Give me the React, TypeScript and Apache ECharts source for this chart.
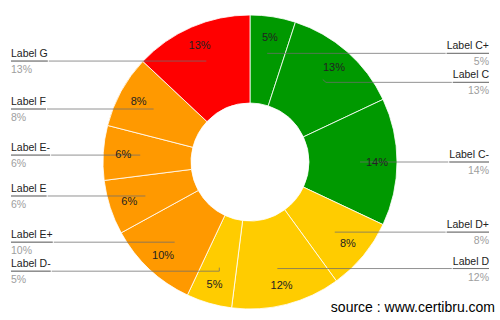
import { useEffect, useRef } from 'react';
import * as echarts from 'echarts';

// Share of each category, clockwise from 12 o'clock
const categories = [
  'Label C+', 'Label C', 'Label C-',
  'Label D+', 'Label D', 'Label D-',
  'Label E+', 'Label E', 'Label E-',
  'Label F', 'Label G',
];
const shares = [5, 13, 14, 8, 12, 5, 10, 6, 6, 8, 13];
const sliceColors = [
  '#009900', '#009900', '#009900',
  '#ffcc00', '#ffcc00', '#ffcc00',
  '#ff9900', '#ff9900', '#ff9900',
  '#ff9900', '#ff0000',
];
const sourceNote = 'source : www.certibru.com';

const FONT = "'Liberation Sans', Arial, sans-serif";
const CENTER = [250, 162];
const LEADER = 'rgba(110,110,110,0.75)';

export default function App() {
  const ref = useRef<HTMLDivElement>(null);

  useEffect(() => {
    if (!ref.current) return;
    const chart = echarts.init(ref.current, null, { renderer: 'svg' });

    const slices = categories.map((name, i) => ({
      name,
      value: shares[i],
      itemStyle: { color: sliceColors[i] },
    }));
    const ghost = categories.map((name, i) => ({ name, value: shares[i] }));

    chart.setOption({
      animation: false,
      textStyle: { fontFamily: FONT },
      series: [
        // the visible donut
        {
          type: 'pie',
          z: 1,
          center: CENTER,
          radius: [59, 147],
          startAngle: 90,
          silent: true,
          data: slices,
          itemStyle: { borderColor: 'rgba(255,255,255,0.8)', borderWidth: 1 },
          label: { show: false },
          labelLine: { show: false },
          emphasis: { disabled: true },
        },
        // side labels with leader lines
        {
          type: 'pie',
          z: 3,
          center: CENTER,
          radius: [0, 110],
          startAngle: 90,
          silent: true,
          avoidLabelOverlap: true,
          data: ghost,
          itemStyle: { color: 'transparent', borderWidth: 0 },
          label: {
            show: true,
            position: 'outside',
            alignTo: 'edge',
            edgeDistance: 11,
            distanceToLabelLine: 0,
            formatter: (p: any) => `{name|${p.name}}\n{hr|}\n{pct|${p.value}%}`,
            rich: {
              name: { fontSize: 10.5, color: '#222', lineHeight: 14, fontFamily: FONT },
              hr: { height: 0, width: '100%', borderColor: LEADER, borderWidth: 1, lineHeight: 2 },
              pct: { fontSize: 10.5, color: '#9e9e9e', lineHeight: 14, fontFamily: FONT },
            },
          },
          labelLine: {
            show: true,
            length: 0,
            length2: 0,
            lineStyle: { color: LEADER, width: 1 },
          },
          emphasis: { disabled: true },
        },
        // percentage printed inside each slice
        {
          type: 'pie',
          z: 4,
          center: CENTER,
          radius: [101, 147],
          startAngle: 90,
          silent: true,
          data: ghost,
          itemStyle: { color: 'transparent', borderWidth: 0 },
          label: {
            show: true,
            position: 'inside',
            formatter: (p: any) => `${p.value}%`,
            color: '#222',
            fontSize: 11,
            fontFamily: FONT,
          },
          labelLine: { show: false },
          emphasis: { disabled: true },
        },
      ],
      graphic: [
        {
          type: 'text',
          right: 5,
          bottom: 6,
          style: { text: sourceNote, font: `14px ${FONT}`, fill: '#000' },
        },
      ],
    });

    return () => chart.dispose();
  }, []);

  return (
    <div
      ref={ref}
      style={{ position: 'fixed', left: 0, top: 0, width: 500, height: 320, background: '#fff' }}
    />
  );
}
